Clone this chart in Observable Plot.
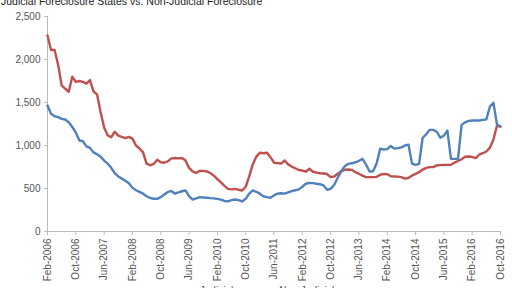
<!DOCTYPE html>
<html>
<head>
<meta charset="utf-8">
<script src="https://cdn.jsdelivr.net/npm/d3@7"></script>
<script src="https://cdn.jsdelivr.net/npm/@observablehq/plot@0.6"></script>
<style>
  html, body { margin: 0; padding: 0; background: #fff; overflow: hidden; }
  body { width: 512px; height: 288px; position: relative; font-family: "Liberation Sans", Arial, sans-serif; }
  #title { position: absolute; left: 1px; top: -5px; font-size: 10.5px; color: #222; white-space: nowrap; }
  #chart { position: absolute; left: 0; top: 0; }
  #legend { position: absolute; left: 0; top: 285px; width: 512px; text-align: center; font-size: 10px; color: #555; }
  #legend span { margin: 0 12px; }
  #legend i { display: inline-block; width: 18px; height: 3px; vertical-align: middle; margin-right: 4px; }
</style>
</head>
<body>
<div id="title">Judicial Foreclosure States vs. Non-Judicial Foreclosure</div>
<div id="chart"></div>
<div id="legend"></div>
<script>
const seriesNames = ["Judicial", "Non-Judicial"];
const seriesColors = ["#c0504d", "#4f81bd"];

const tickLabels = ["Feb-2006","Oct-2006","Jun-2007","Feb-2008","Oct-2008","Jun-2009","Feb-2010","Oct-2010","Jun-2011","Feb-2012","Oct-2012","Jun-2013","Feb-2014","Oct-2014","Jun-2015","Feb-2016","Oct-2016"];
const yTicks = [0, 500, 1000, 1500, 2000, 2500];

// monthly values, Feb-2006 .. Oct-2016
const judicial = [
  2280,2110,2110,1940,1700,1660,1625,1800,1740,1750,1740,1720,1760,1630,1595,1390,
  1210,1120,1095,1160,1115,1100,1085,1100,1080,1000,965,920,790,770,785,835,
  805,800,815,850,855,850,855,826,740,700,680,705,705,698,680,650,
  610,570,530,495,490,496,485,477,520,640,780,870,915,910,915,864,
  800,795,790,826,780,755,735,715,709,695,730,695,685,678,675,668,
  632,640,672,700,718,721,717,690,671,650,632,632,632,635,660,670,
  665,642,640,638,632,615,622,650,670,690,720,740,748,748,768,772,
  775,775,776,800,820,840,870,872,868,852,895,910,930,975,1070,1230,
  1220
];
const nonJudicial = [
  1465,1370,1340,1330,1310,1302,1270,1215,1150,1058,1050,990,972,920,898,870,
  825,790,740,680,640,615,590,560,510,480,460,440,410,392,381,380,
  400,430,460,470,440,455,468,477,410,372,385,400,396,392,388,385,
  380,370,355,350,365,372,365,349,380,440,477,462,440,410,400,392,
  420,440,445,440,455,470,480,490,520,555,566,562,555,550,535,485,
  495,540,625,700,760,787,793,805,820,845,780,698,700,790,962,954,
  958,995,965,970,978,1000,1010,790,775,787,1090,1130,1182,1182,1160,1090,
  1115,1174,845,845,845,1240,1270,1285,1291,1291,1291,1298,1302,1450,1497,1245,
  1221
];

const rows = [];
judicial.forEach((v, i) => rows.push({i, v, s: seriesNames[0]}));
nonJudicial.forEach((v, i) => rows.push({i, v, s: seriesNames[1]}));

const tickIdx = tickLabels.map((_, k) => k * 8);

const chart = Plot.plot({
  width: 512,
  height: 284,
  marginLeft: 47,
  marginRight: 12,
  marginTop: 16,
  marginBottom: 53,
  style: {fontFamily: "'Liberation Sans', Arial, sans-serif", fontSize: "10px", color: "#555", background: "transparent"},
  x: {domain: [0, judicial.length - 1], axis: null},
  y: {domain: [0, 2500], axis: null},
  color: {domain: seriesNames, range: seriesColors},
  marks: [
    Plot.axisY({ticks: yTicks, tickFormat: d => d3.format(",")(d), tickSize: 3, tickPadding: 4, stroke: "#bbb", fill: "#555", label: null}),
    Plot.axisX({ticks: tickIdx, tickFormat: d => tickLabels[d / 8], tickSize: 4, tickPadding: 3, tickRotate: -90, stroke: "#bbb", fill: "#555", label: null}),
    Plot.ruleX([0], {stroke: "#bbb"}),
    Plot.ruleY([0], {stroke: "#bbb"}),
    Plot.line(rows, {x: "i", y: "v", z: "s", stroke: "s", strokeWidth: 2.4, curve: "linear"})
  ]
});
document.getElementById("chart").appendChild(chart);

const legend = document.getElementById("legend");
seriesNames.forEach((n, k) => {
  const sp = document.createElement("span");
  const sw = document.createElement("i");
  sw.style.background = seriesColors[k];
  sp.appendChild(sw);
  sp.appendChild(document.createTextNode(n));
  legend.appendChild(sp);
});
</script>
</body>
</html>
